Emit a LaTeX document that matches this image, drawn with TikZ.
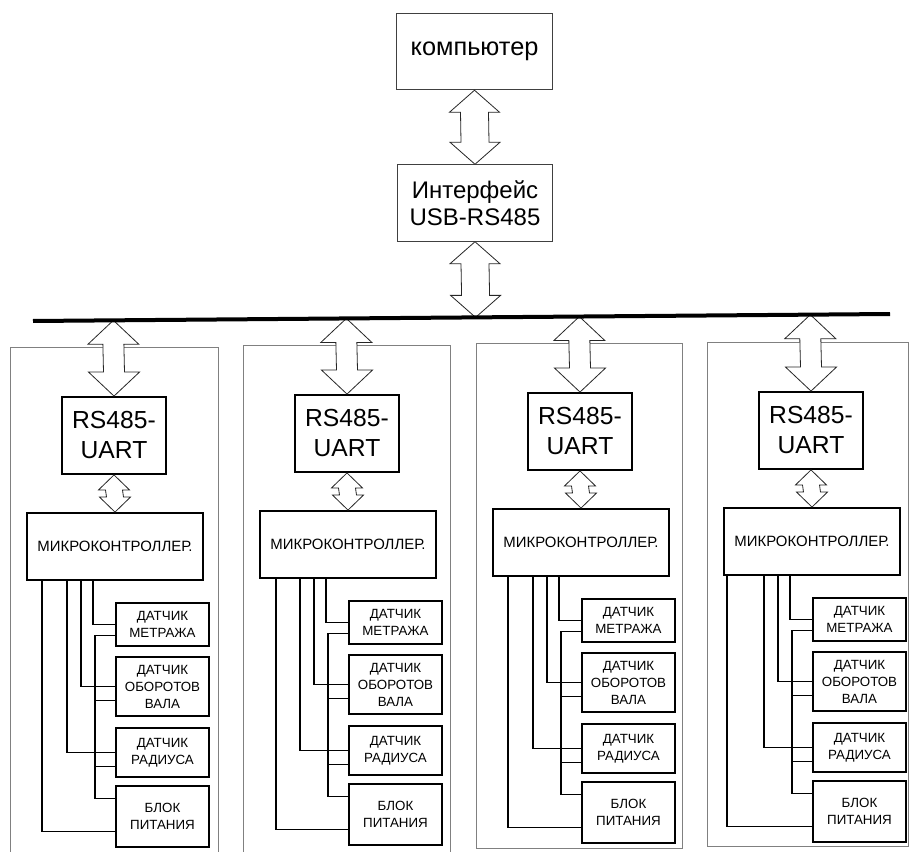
\documentclass[tikz,border=0pt]{standalone}
\usepackage{fontspec}
\setmainfont{Liberation Sans}
\usetikzlibrary{calc}

\tikzset{
  box/.style={draw, line width=1.4pt, inner sep=0pt, align=center},
  thinbox/.style={draw=black!75, line width=0.6pt, inner sep=0pt, align=center,
    minimum width=116.5pt, minimum height=57.5pt},
  uartbox/.style={box, minimum width=78pt, minimum height=57.75pt,
    font=\fontsize{18.5}{22.5}\selectfont},
  mcubox/.style={box, minimum width=132pt, minimum height=50.25pt,
    font=\fontsize{11.2}{13.4}\selectfont},
  sensbox/.style={box, minimum width=69.75pt, font=\fontsize{10}{12.75}\selectfont},
  wire/.style={line width=1.3pt},
  frame/.style={draw=black!50, line width=0.5pt},
  biarrow/.style={draw=black!85, line width=0.6pt, fill=white, line join=miter},
}

% two-way block arrow: top, bottom, head half-width, shaft half-width, head length
\newcommand{\twoway}[5]{%
  \draw[biarrow] (#1) -- ($(#1)+(#3,#5)$) -- ($(#1)+(#4,#5)$)
    -- ($(#2)+(#4,-#5)$) -- ($(#2)+(#3,-#5)$) -- (#2)
    -- ($(#2)+(-#3,-#5)$) -- ($(#2)+(-#4,-#5)$)
    -- ($(#1)+(-#4,#5)$) -- ($(#1)+(-#3,#5)$) -- cycle;}

\begin{document}
\begin{tikzpicture}[x=0.75pt, y=-0.75pt]
\useasboundingbox (0,0) rectangle (910,852);

\node[thinbox, font=\fontsize{19}{23}\selectfont] (comp) at (474.5,51.5) {компьютер};
\node[thinbox, font=\fontsize{18}{20}\selectfont] (iface) at (475,203) {Интерфейс\\USB-RS485};

% bus
\coordinate (busL) at (33,321);
\coordinate (busR) at (890,314);
\coordinate (t0) at ($(busL)!(iface.south)!(busR)$);

\twoway{comp.south}{iface.north}{25}{14}{22}
\twoway{iface.south}{t0}{25}{14}{22}

\foreach \c/\fx/\dy/\px/\fw in
  {1/10/0/16/208, 2/243/-2/17/207, 3/476/-4/16/206, 4/707/-5/4/201}{
  \draw[frame] ({\fx},{347+\dy}) rectangle ({\fx+\fw},{856+2*\dy});
  \node[uartbox] (u\c) at ({\fx+104},{435.5+\dy}) {RS485-\\UART};
  \node[mcubox] (m\c) at ({\fx+105},{546.5+\dy}) {МИКРОКОНТРОЛЛЕР.};
  \node[sensbox, minimum height=32.25pt] (met\c) at ({\fx+152.5},{624.5+\dy}) {ДАТЧИК\\МЕТРАЖА};
  \node[sensbox, minimum height=44.25pt] (obr\c) at ({\fx+152.5},{686.5+\dy}) {ДАТЧИК\\ОБОРОТОВ\\ВАЛА};
  \node[sensbox, minimum height=36.75pt] (rad\c) at ({\fx+152.5},{752.5+\dy}) {ДАТЧИК\\РАДИУСА};
  \node[sensbox, minimum height=45.75pt] (pit\c) at ({\fx+152.5},{816.5+\dy}) {БЛОК\\ПИТАНИЯ};

  \coordinate (b\c) at ($(busL)!(u\c.north)!(busR)$);
  \twoway{b\c}{u\c.north}{25.5}{10.5}{24}
  \twoway{u\c.south}{m\c.north}{15.5}{8.5}{15}

  % signal lines
  \draw[wire] ($(m\c.south west)+(\px,0)$) |- ($(pit\c.west)+(0,15)$);
  \draw[wire] ($(m\c.south west)+(41,0)$) |- (rad\c.west);
  \draw[wire] ($(m\c.south west)+(55,0)$) |- (obr\c.west);
  \draw[wire] ($(m\c.south west)+(67,0)$) |- (met\c.west);
  % common line
  \draw[wire] ($(met\c.west)+(0,11)$) -- ++(-20,0) |- ($(pit\c.west)+(0,-18)$);
  \foreach \s in {obr\c, rad\c}
    \draw[wire] ($(\s.west)+(0,14)$) -- ++(-20,0);
}

\draw[line width=3pt] (busL) -- (busR);
\end{tikzpicture}
\end{document}
